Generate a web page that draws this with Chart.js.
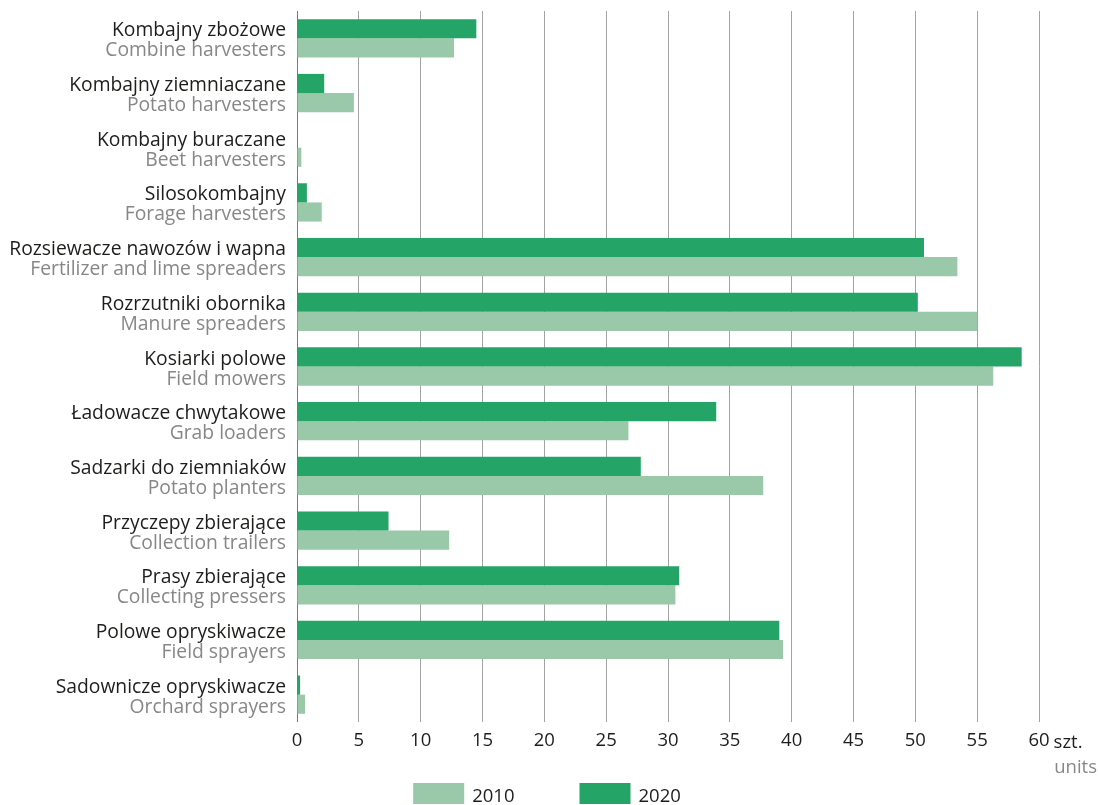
<!DOCTYPE html>
<html>
<head>
<meta charset="utf-8">
<script src="https://cdn.jsdelivr.net/npm/chart.js@4"></script>
<style>
  body { margin: 0; background: #fff; }
  canvas { display: block; }
</style>
</head>
<body>
<canvas id="machines-chart" width="1098" height="805"></canvas>
<script>
const labelsPl = ['Kombajny zbożowe', 'Kombajny ziemniaczane', 'Kombajny buraczane', 'Silosokombajny',
    'Rozsiewacze nawozów i wapna', 'Rozrzutniki obornika', 'Kosiarki polowe', 'Ładowacze chwytakowe',
    'Sadzarki do ziemniaków', 'Przyczepy zbierające', 'Prasy zbierające', 'Polowe opryskiwacze',
    'Sadownicze opryskiwacze'];
const labelsEn = ['Combine harvesters', 'Potato harvesters', 'Beet harvesters', 'Forage harvesters',
    'Fertilizer and lime spreaders', 'Manure spreaders', 'Field mowers', 'Grab loaders',
    'Potato planters', 'Collection trailers', 'Collecting pressers', 'Field sprayers',
    'Orchard sprayers'];
const values2020 = [14.5, 2.2, 0, 0.8, 50.7, 50.2, 58.6, 33.9, 27.8, 7.4, 30.9, 39.0, 0.25];
const values2010 = [12.7, 4.6, 0.35, 2.0, 53.4, 55.0, 56.3, 26.8, 37.7, 12.3, 30.6, 39.3, 0.65];
const xTicks = [0, 5, 10, 15, 20, 25, 30, 35, 40, 45, 50, 55, 60];

const FONT = '"Open Sans", "Noto Sans", sans-serif';
const DARK = '#24a466';
const LIGHT = '#9ac9a9';

// draws the two-colour category labels, the unit text and the legend
const extrasPlugin = {
    id: 'extras',
    afterDraw(chart) {
        const ctx = chart.ctx;
        const yScale = chart.scales.y;
        const xScale = chart.scales.x;
        const left = chart.chartArea.left;
        ctx.save();
        ctx.font = '19.3px ' + FONT;
        ctx.textAlign = 'right';
        ctx.textBaseline = 'alphabetic';
        labelsPl.forEach((pl, i) => {
            const y = yScale.getPixelForTick(i);
            ctx.fillStyle = '#1d1d1b';
            ctx.fillText(pl, left - 11, y - 2);
            ctx.fillStyle = '#878787';
            ctx.fillText(labelsEn[i], left - 11, y + 18);
        });

        // "szt." next to the last tick and "units" under it
        ctx.font = '18.5px ' + FONT;
        const x60 = xScale.getPixelForValue(60);
        const w60 = ctx.measureText('60').width;
        ctx.textAlign = 'left';
        ctx.fillStyle = '#1d1d1b';
        ctx.fillText('szt.', x60 + w60 / 2 + 4, 748);
        ctx.textAlign = 'right';
        ctx.fillStyle = '#878787';
        ctx.fillText('units', chart.width - 1, 773);

        // legend
        const items = [{ text: '2010', color: LIGHT }, { text: '2020', color: DARK }];
        const boxW = 51, boxH = 21, gap = 8, itemGap = 65;
        ctx.textAlign = 'left';
        let total = 0;
        items.forEach((it, i) => {
            total += boxW + gap + ctx.measureText(it.text).width + (i < items.length - 1 ? itemGap : 0);
        });
        let x = chart.width / 2 - total / 2 - 2;
        items.forEach(it => {
            ctx.fillStyle = it.color;
            ctx.fillRect(x, 783, boxW, boxH);
            ctx.fillStyle = '#1d1d1b';
            ctx.fillText(it.text, x + boxW + gap, 801.5);
            x += boxW + gap + ctx.measureText(it.text).width + itemGap;
        });
        ctx.restore();
    }
};

const ctx = document.getElementById('machines-chart').getContext('2d');
new Chart(ctx, {
    type: 'bar',
    data: {
        labels: labelsPl,
        datasets: [
            { label: '2020', data: values2020, backgroundColor: DARK },
            { label: '2010', data: values2010, backgroundColor: LIGHT }
        ]
    },
    options: {
        indexAxis: 'y',
        responsive: false,
        animation: false,
        layout: { padding: { left: 297, right: 59, top: 11, bottom: 0 } },
        datasets: { bar: { categoryPercentage: 0.7, barPercentage: 1.0 } },
        plugins: {
            legend: { display: false },
            tooltip: { enabled: false }
        },
        scales: {
            x: {
                min: 0,
                max: 60,
                afterBuildTicks: scale => { scale.ticks = xTicks.map(v => ({ value: v })); },
                afterFit: scale => { scale.height = 83; },
                border: { display: false },
                grid: {
                    drawTicks: false,
                    color: c => (c.tick && c.tick.value === 0 ? '#7a7a7a' : '#a3a3a3'),
                    lineWidth: 1
                },
                ticks: {
                    padding: 8,
                    color: '#1d1d1b',
                    font: { family: FONT, size: 18.5 },
                    maxRotation: 0
                }
            },
            y: {
                display: false
            }
        }
    },
    plugins: [extrasPlugin]
});
</script>
</body>
</html>
